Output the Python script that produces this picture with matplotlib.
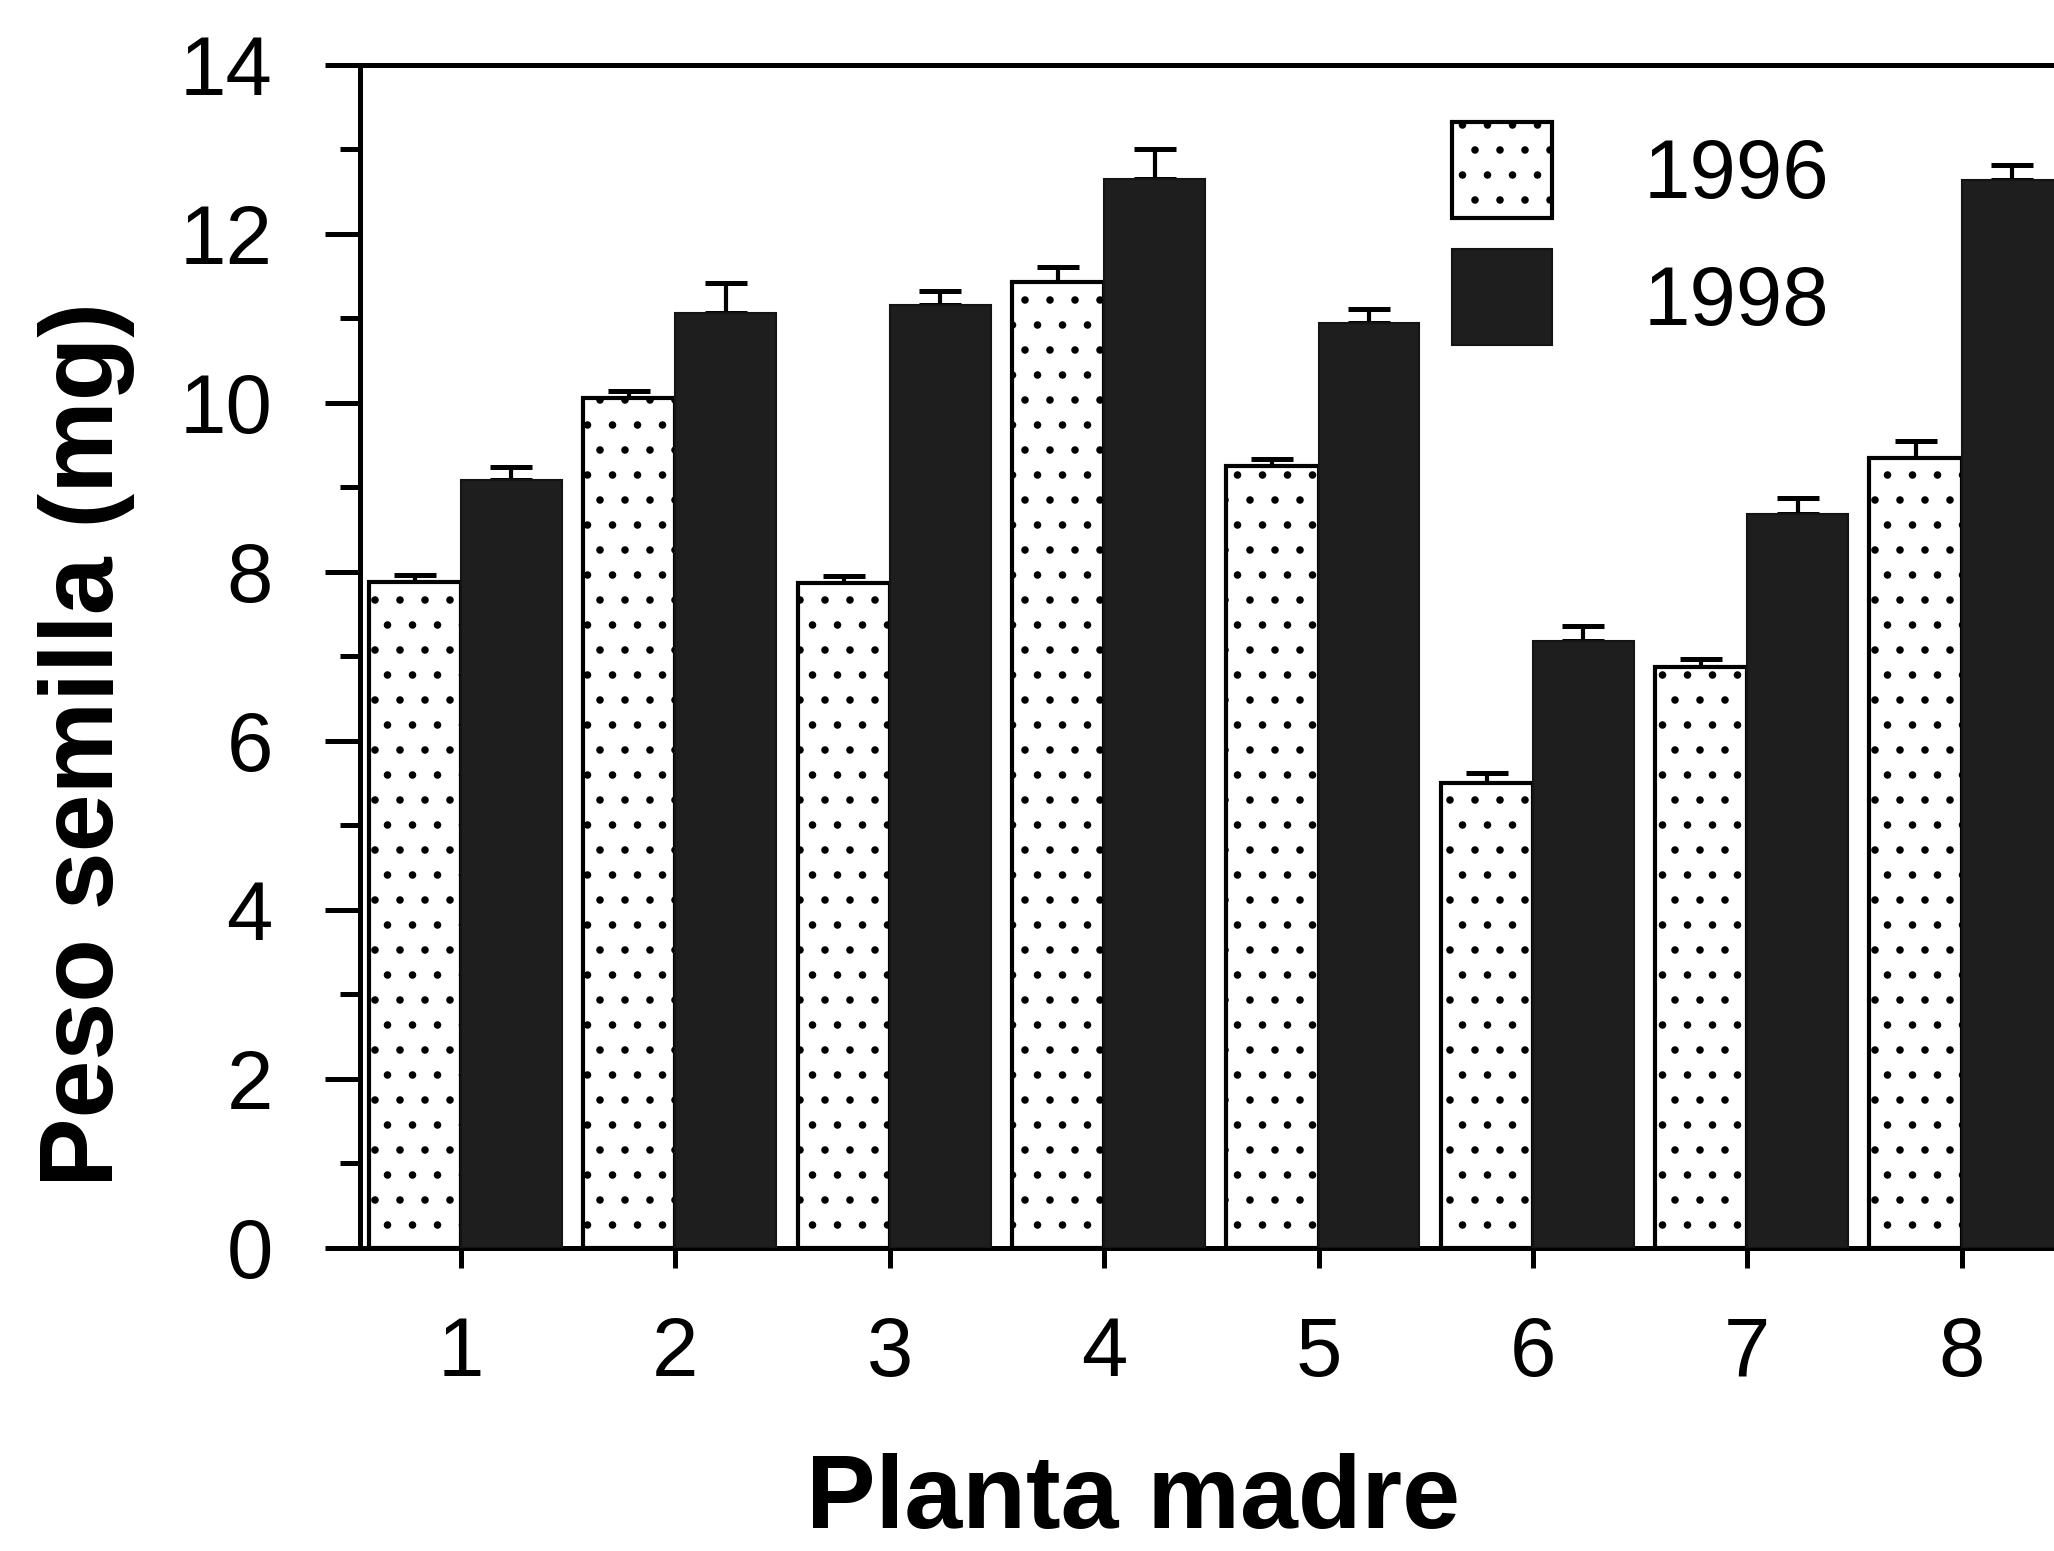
"""Peso de semilla por planta madre, cosechas 1996 y 1998."""

from __future__ import annotations

import matplotlib

matplotlib.use("Agg")
import matplotlib.pyplot as plt
import numpy as np
from matplotlib.patches import Patch
from matplotlib.ticker import MultipleLocator

plantas = [1, 2, 3, 4, 5, 6, 7, 8]
anios = ["1996", "1998"]
peso_1996 = [7.88, 10.06, 7.87, 11.43, 9.25, 5.50, 6.87, 9.35]
err_1996 = [0.08, 0.08, 0.08, 0.18, 0.09, 0.12, 0.10, 0.20]
peso_1998 = [9.09, 11.07, 11.16, 12.65, 10.95, 7.18, 8.69, 12.64]
err_1998 = [0.15, 0.35, 0.17, 0.36, 0.16, 0.18, 0.18, 0.18]

DPI = 150
OSCURO = "#1e1e1e"

plt.rcParams["font.family"] = ["Liberation Sans", "DejaVu Sans"]
plt.rcParams["hatch.linewidth"] = 1.2


def _plot(path: str) -> None:
    fig = plt.figure(figsize=(2054 / DPI, 1551 / DPI), dpi=DPI)
    # the frame runs past the right edge of the canvas, so the last group is cut
    ax = fig.add_axes([0.1753, 0.1954, 0.8841, 0.7627])

    x = np.asarray(plantas, dtype=float)
    w96, w98 = 0.43, 0.47
    x96 = x - w96 / 2
    x98 = x + w98 / 2

    ax.bar(x96, peso_1996, width=w96, color="white", edgecolor="black",
           hatch=".", linewidth=2.0, zorder=3)
    ax.bar(x98, peso_1998, width=w98, color=OSCURO, edgecolor="#141414",
           linewidth=1.0, zorder=3)

    # upper error only; the lower half sits hidden behind the bar
    for xs, ys, es in ((x96, peso_1996, err_1996), (x98, peso_1998, err_1998)):
        ax.errorbar(xs, ys, yerr=[np.zeros(len(es)), es], fmt="none", ecolor="black",
                    elinewidth=2.0, capsize=10, capthick=2.4, zorder=2)

    ax.set_xlim(0.529, 9.0)
    ax.set_ylim(0, 14)
    ax.set_xticks(plantas)
    ax.yaxis.set_major_locator(MultipleLocator(2))
    ax.yaxis.set_minor_locator(MultipleLocator(1))

    ax.spines["right"].set_visible(False)
    for side in ("left", "top", "bottom"):
        ax.spines[side].set_linewidth(2.4)

    ax.tick_params(axis="y", which="major", direction="out", length=16.8, width=2.4,
                   pad=25, labelsize=40)
    ax.tick_params(axis="y", which="minor", direction="out", length=9.6, width=2.4)
    ax.tick_params(axis="x", direction="out", length=9.6, width=2.4, pad=22.5, labelsize=40)

    handles = [
        Patch(facecolor="white", edgecolor="black", hatch=".", linewidth=2.0),
        Patch(facecolor=OSCURO, edgecolor="#141414", linewidth=1.0),
    ]
    ax.legend(handles, anios, loc="upper left", bbox_to_anchor=(1452 / 2054, 1 - 122 / 1551),
              bbox_transform=fig.transFigure, frameon=False, fontsize=40,
              handlelength=1.2, handleheight=1.4, handletextpad=1.1,
              labelspacing=0.37, borderpad=0, borderaxespad=0)

    fig.text(0.055, 0.5203, "Peso semilla (mg)", rotation=90, rotation_mode="anchor",
             ha="center", va="baseline", fontsize=50, fontweight="bold")
    fig.text(0.5516, 0.0148, "Planta madre", ha="center", va="baseline",
             fontsize=50, fontweight="bold")

    fig.savefig(path, dpi=DPI)
    plt.close(fig)


if __name__ == "__main__":
    _plot("out.png")
